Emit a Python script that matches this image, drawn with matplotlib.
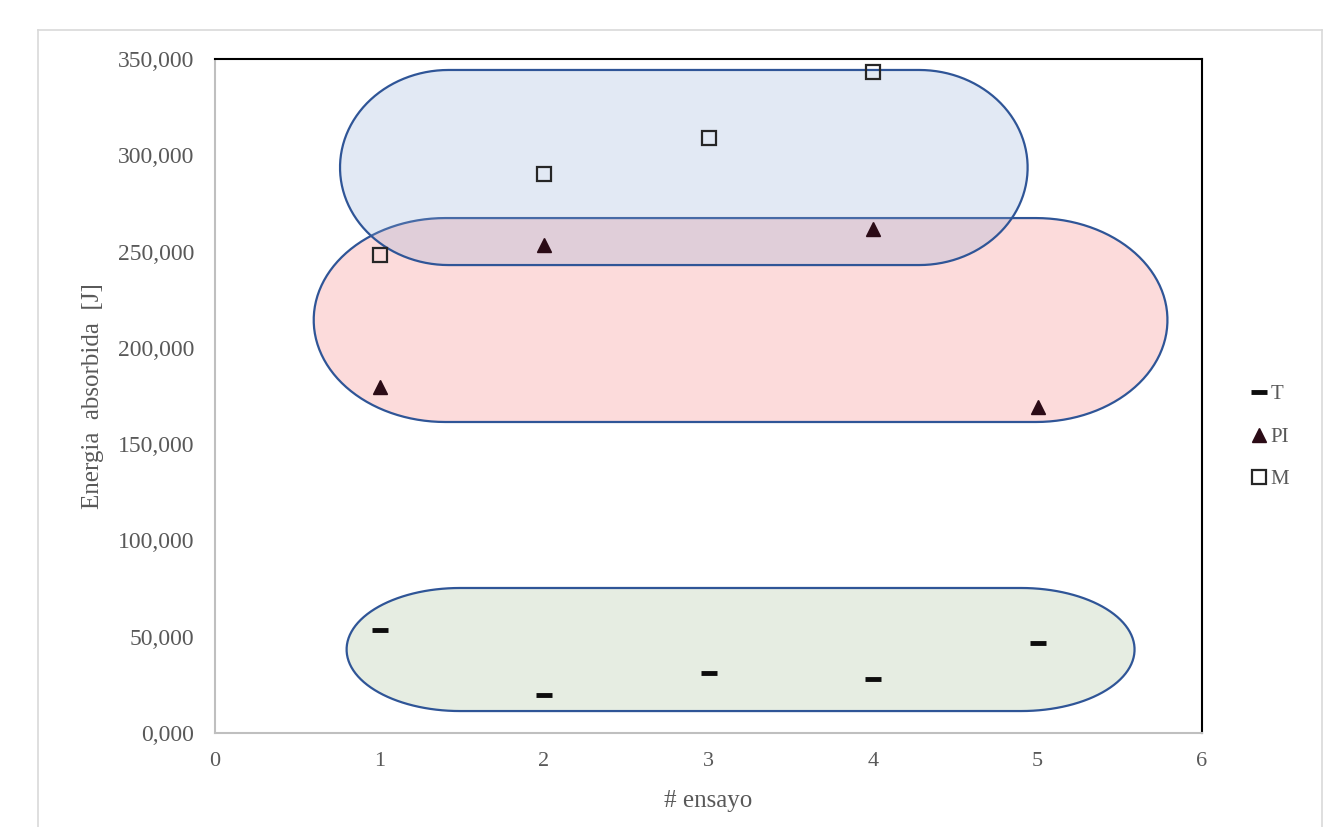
import numpy as np
import matplotlib
matplotlib.use("Agg")
import matplotlib.pyplot as plt
from matplotlib.patches import Polygon
from matplotlib.ticker import FuncFormatter

# ------------------ DATA ------------------ #
x_t  = [1, 2, 3, 4, 5]
y_t  = [53.5, 19.7, 31.2, 28.0, 46.7]
x_pi = [1, 2, 4, 5]
y_pi = [179.7, 253.4, 261.7, 169.3]
x_m  = [1, 2, 3, 4]
y_m  = [248.2, 290.3, 309.0, 343.2]
labels = ["T", "PI", "M"]
# group outlines: (x0, x1, y0, y1, end radius in x)
groups = [
    ((0.60, 5.79, 161.5, 267.4, 0.80), (0.97, 0.45, 0.45)),
    ((0.76, 4.94, 243.0, 344.3, 0.66), (0.56, 0.67, 0.84)),
    ((0.80, 5.59, 11.4, 75.3, 0.69), (0.61, 0.72, 0.56)),
]
# ------------------------------------------ #

GRAY = "#595959"
plt.rcParams["font.family"] = ["Liberation Serif", "DejaVu Serif"]

fig = plt.figure(figsize=(13.25, 8.27), dpi=100)
ax = fig.add_axes([215/1325, 1-733/827, (1202-215)/1325, (733-59)/827])

# outer chart frame
for xs, ys in [([38, 38], [30, 830]), ([38, 1322], [30, 30]), ([1322, 1322], [30, 830])]:
    fig.add_artist(plt.Line2D([v/1325 for v in xs], [1-v/827 for v in ys],
                              color="#d9d9d9", lw=1.2, transform=fig.transFigure))

def stadium(x0, x1, y0, y1, rx):
    ry = (y1 - y0) / 2
    yc = (y0 + y1) / 2
    t = np.linspace(-np.pi/2, np.pi/2, 60)
    right = np.c_[x1 - rx + rx*np.cos(t), yc + ry*np.sin(t)]
    left = np.c_[x0 + rx - rx*np.cos(t), yc - ry*np.sin(t)]
    return np.vstack([right, left])

for i, (g, col) in enumerate(groups):
    pts = stadium(*g)
    ax.add_patch(Polygon(pts, closed=True, facecolor=(*col, 0.25),
                         edgecolor="#2f5597", lw=1.6, zorder=1+i))

ax.plot(x_t, y_t, ls="none", marker="_", ms=11, mew=3.5, color="#0d0d0d",
        label=labels[0], zorder=5)
ax.plot(x_pi, y_pi, ls="none", marker="^", ms=10, color="#2b0b16",
        mec="#2b0b16", label=labels[1], zorder=5)
ax.plot(x_m, y_m, ls="none", marker="s", ms=9.5, mfc="none", mec="#262626",
        mew=1.6, label=labels[2], zorder=5)

ax.set_xlim(0, 6)
ax.set_ylim(0, 350)
ax.set_xticks(range(0, 7))
ax.set_yticks(np.arange(0, 351, 50))
ax.yaxis.set_major_formatter(FuncFormatter(lambda v, p: f"{v:,.3f}".replace(".", ",")))
ax.tick_params(length=0, labelcolor=GRAY)
ax.tick_params(axis="x", labelsize=16, pad=14)
ax.tick_params(axis="y", labelsize=17, pad=15)

for s in ["top", "right"]:
    ax.spines[s].set_color("black")
    ax.spines[s].set_linewidth(1.5)
for s in ["left", "bottom"]:
    ax.spines[s].set_color("#bfbfbf")
    ax.spines[s].set_linewidth(1.5)

ax.set_xlabel("# ensayo", fontsize=18, color=GRAY, labelpad=13)
ax.set_ylabel("Energia  absorbida  [J]", fontsize=18, color=GRAY, labelpad=10)

leg = ax.legend(loc="center left", bbox_to_anchor=(1.03, 0.439), frameon=False,
                fontsize=15, handlelength=0.8, handletextpad=0.15, labelspacing=1.1)
for t in leg.get_texts():
    t.set_color(GRAY)

fig.savefig("out.png", dpi=100)
